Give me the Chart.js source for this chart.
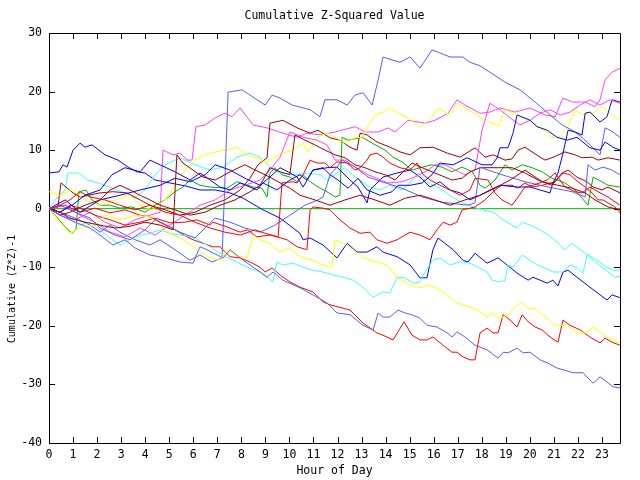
<!DOCTYPE html>
<html><head><meta charset="utf-8">
<script src="https://cdn.jsdelivr.net/npm/chart.js@4.4.1/dist/chart.umd.min.js"></script>
<style>html,body{margin:0;padding:0;background:#fff}#wrap{width:640px;height:480px}</style>
</head><body><div id="wrap"><canvas id="c" width="640" height="480"></canvas></div>
<script>
const hourTicks = [0,1,2,3,4,5,6,7,8,9,10,11,12,13,14,15,16,17,18,19,20,21,22,23];
const valueTicks = [-40,-30,-20,-10,0,10,20,30];
const titleText = "Cumulative Z-Squared Value";
const xTitle = "Hour of Day";
const yTitle = "Cumulative (Z*Z)-1";

// each series: [hour, cumulative value]
const zeroLine = [[0,0],[23.75,0]];
const magentaA = [[0,0],[0.46,-1.1],[1.08,-1.9],[1.71,-0.6],[2.33,-2.3],[2.95,-3.3],[3.58,-1.9],[4.2,-1.1],[4.62,-0.6],[4.74,10.0],[5.16,9.2],[5.45,9.5],[5.74,8.3],[5.95,8.3],[6.11,14.0],[6.49,14.3],[6.91,15.5],[7.32,16.3],[7.61,15.7],[7.95,17.2],[8.49,14.3],[9.07,13.8],[9.73,12.9],[10.32,12.2],[10.73,12.9],[11.27,12.6],[11.9,13.1],[12.73,14.0],[13.14,13.1],[13.69,13.1],[14.1,13.8],[14.39,13.1],[14.93,15.1],[15.64,14.6],[16.06,15.1],[16.6,16.3],[16.97,18.6],[17.3,17.7],[17.93,16.3],[18.34,16.5],[18.76,17.2],[19.38,16.5],[20.01,17.2],[20.63,16.0],[21.05,15.7],[21.38,18.9],[21.76,18.2],[22.3,18.2],[22.71,17.4],[22.92,18.6],[23.13,22.0],[23.42,23.3],[23.75,24.0]];
const magentaB = [[0,0],[0.67,0.6],[1.29,-1.1],[1.91,-2.3],[2.54,-4.0],[3.16,-4.8],[3.79,-3.3],[4.41,-4.5],[5.03,-2.8],[5.66,-1.1],[6.28,0.6],[6.91,1.5],[7.53,3.2],[8.15,4.0],[8.78,4.9],[9.19,6.6],[9.61,8.8],[10.02,13.1],[10.57,12.2],[11.15,11.7],[11.56,10.9],[11.9,8.3],[12.31,8.3],[12.73,7.1],[13.27,5.8],[14.1,4.4],[14.68,4.6],[15.22,5.4],[15.77,6.6],[16.06,7.5],[16.47,7.5],[16.89,6.6],[17.3,5.8],[17.72,6.6],[18.01,13.4],[18.34,18.0],[18.76,16.9],[19.18,15.5],[19.59,14.3],[20.01,15.1],[20.42,16.3],[20.84,16.9],[21.26,16.0],[21.67,16.5],[22.09,17.7],[22.5,18.6],[22.92,17.7],[23.34,18.6],[23.75,18.0]];
const blueA = [[0,6.1],[0.42,6.3],[0.58,7.5],[0.75,7.1],[1.0,10.0],[1.29,11.2],[1.5,10.5],[1.79,10.9],[2.33,9.2],[2.87,8.3],[3.29,7.1],[3.66,6.3],[3.99,6.1],[4.41,4.9],[5.03,4.4],[5.66,3.9],[6.28,3.2],[6.91,3.2],[7.53,2.7],[8.07,1.8],[8.9,-0.2],[9.61,-1.6],[10.44,-4.2],[10.57,-5.3],[10.86,-5.0],[11.4,-6.2],[11.98,-8.4],[12.4,-5.9],[12.81,-7.4],[13.23,-7.4],[13.64,-6.5],[13.89,-7.4],[14.48,-8.2],[15.02,-9.6],[15.43,-11.8],[15.72,-11.8],[15.97,-7.0],[16.18,-5.0],[16.81,-7.0],[17.22,-8.8],[17.43,-9.1],[17.72,-7.6],[18.22,-9.3],[18.68,-8.4],[19.05,-9.6],[19.47,-11.0],[19.93,-12.2],[20.13,-11.7],[20.72,-12.7],[20.96,-12.2],[21.17,-13.2],[21.38,-10.8],[21.59,-10.5],[21.96,-11.7],[22.5,-13.4],[23.21,-15.6],[23.42,-14.7],[23.75,-15.2]];
const blueB = [[0,0],[0.67,1.5],[1.29,-0.6],[2.12,1.5],[2.95,2.3],[3.79,3.2],[4.62,4.0],[5.24,5.2],[5.87,4.6],[6.49,5.8],[6.91,7.5],[7.53,6.6],[8.15,5.2],[8.78,4.0],[9.19,5.4],[9.61,7.0],[9.94,6.3],[10.32,5.4],[10.57,3.7],[10.98,6.6],[11.56,7.0],[11.98,7.1],[12.52,4.9],[12.85,3.7],[13.23,1.0],[13.35,3.2],[13.89,5.4],[14.48,6.1],[15.02,6.6],[15.43,5.4],[15.85,3.7],[16.26,4.6],[16.68,3.2],[17.1,2.7],[17.51,1.5],[17.93,2.3],[18.34,3.2],[18.76,4.0],[19.47,3.7],[20.01,3.7],[20.42,3.2],[20.84,2.7],[20.96,4.4],[21.17,6.1],[21.38,9.5],[21.59,13.4],[21.88,13.1],[22.17,12.6],[22.3,16.3],[22.5,16.5],[22.92,14.8],[23.21,15.7],[23.42,18.6],[23.75,18.2]];
const blueC = [[0,0],[0.46,-0.6],[0.96,0.6],[1.5,2.3],[2.12,3.2],[2.62,5.8],[3.16,7.0],[3.79,6.3],[4.2,8.3],[4.62,7.5],[5.24,6.3],[5.87,4.9],[6.28,6.1],[6.7,4.9],[7.11,3.7],[7.53,3.2],[7.95,4.4],[8.65,3.2],[8.9,4.4],[9.48,3.2],[10.02,4.9],[10.44,5.8],[10.73,4.9],[10.98,6.6],[11.4,7.0],[11.69,5.8],[12.02,4.9],[12.44,3.5],[12.85,5.2],[13.23,3.2],[13.77,2.3],[14.27,2.9],[14.52,4.0],[15.02,4.0],[15.52,4.4],[15.93,5.8],[16.26,7.8],[16.81,7.5],[17.39,8.7],[18.01,7.5],[18.43,7.5],[18.64,8.7],[18.76,10.4],[19.09,10.4],[19.3,12.9],[19.47,16.0],[20.01,15.1],[20.3,14.0],[20.72,13.4],[21.13,12.2],[21.55,11.7],[21.96,12.2],[22.5,10.4],[22.92,10.0],[23.13,11.4],[23.46,10.5],[23.75,10.0]];
const lightBlueA = [[0,0],[0.46,-0.6],[1.08,-1.6],[1.71,-2.8],[2.12,-4.0],[2.54,-2.8],[2.95,-4.0],[3.58,-5.3],[4.2,-6.2],[4.62,-5.3],[5.24,-7.0],[5.87,-8.8],[6.28,-7.9],[6.78,-9.1],[7.2,-8.4],[7.45,19.9],[8.03,20.3],[8.36,19.4],[8.99,17.7],[9.28,19.4],[9.61,18.9],[10.11,17.7],[10.86,16.9],[11.27,15.7],[11.48,18.6],[11.98,18.6],[12.4,17.7],[12.73,19.4],[13.06,19.8],[13.44,17.7],[13.69,22.0],[13.89,25.9],[14.27,25.4],[14.6,25.0],[15.02,25.9],[15.43,24.0],[15.93,27.1],[16.26,26.6],[16.68,25.9],[17.22,25.9],[17.51,25.0],[17.93,24.4],[18.34,23.3],[18.97,21.6],[19.59,20.3],[20.22,18.2],[20.76,16.3],[21.34,14.3],[21.76,13.4],[22.17,12.2],[22.59,10.5],[22.92,9.2],[23.13,13.8],[23.34,13.4],[23.75,12.2]];
const lightBlueB = [[0,0],[0.46,0.6],[1.08,-0.6],[1.71,-1.6],[2.12,-3.3],[2.75,-4.5],[3.37,-5.3],[3.99,-3.6],[4.41,-1.9],[4.83,-2.8],[5.45,-4.0],[6.07,-5.0],[6.49,-3.3],[6.91,-1.6],[7.53,-2.3],[8.15,-3.3],[8.78,-4.0],[9.4,-2.8],[10.02,-1.1],[10.65,0.6],[11.19,1.5],[11.4,2.0],[11.69,5.8],[11.98,7.1],[12.19,8.3],[12.73,7.1],[13.27,5.4],[13.85,4.6],[14.68,3.5],[15.52,2.0],[16.35,1.1],[17.43,0.6],[17.72,1.0],[17.93,7.1],[18.26,6.6],[18.84,5.8],[19.8,4.6],[20.76,3.7],[21.76,2.9],[22.3,2.0],[22.42,7.5],[22.71,6.6],[23.04,7.1],[23.42,6.6],[23.75,5.8]];
const lightBlueC = [[0,0],[0.46,-1.1],[1.08,-2.3],[1.71,-3.3],[2.12,-4.5],[2.66,-6.2],[3.16,-5.3],[3.58,-6.7],[4.2,-7.9],[4.83,-8.4],[5.45,-9.1],[5.99,-9.3],[6.28,-6.5],[6.57,-7.0],[6.99,-7.9],[7.24,-8.4],[7.53,-7.0],[7.95,-8.4],[8.36,-9.6],[8.78,-10.8],[9.07,-11.7],[9.32,-10.8],[9.73,-12.2],[10.44,-13.5],[11.15,-15.1],[11.56,-16.1],[11.98,-17.8],[12.52,-18.1],[13.06,-19.9],[13.48,-20.7],[13.69,-17.8],[13.89,-18.5],[14.18,-18.5],[14.52,-17.3],[14.81,-17.8],[15.1,-18.1],[15.43,-18.7],[15.72,-19.9],[16.14,-20.2],[16.56,-21.2],[16.76,-21.9],[16.97,-21.0],[17.3,-21.9],[17.72,-23.3],[18.22,-24.1],[18.68,-25.5],[18.89,-24.5],[19.09,-24.6],[19.47,-23.8],[19.72,-24.6],[20.01,-24.5],[20.42,-25.8],[20.72,-26.3],[21.13,-27.2],[21.38,-27.5],[21.8,-28.0],[22.21,-28.0],[22.63,-29.8],[22.92,-28.7],[23.21,-29.6],[23.46,-30.4],[23.75,-30.6]];
const cyanA = [[0,0],[0.25,1.5],[0.67,3.2],[0.79,6.1],[1.21,6.1],[1.62,4.9],[2.04,4.4],[2.62,3.5],[3.16,2.7],[3.58,1.8],[3.99,3.2],[4.41,5.8],[4.83,7.5],[5.45,8.7],[6.07,7.5],[6.7,6.6],[7.24,7.1],[7.82,8.8],[8.36,9.5],[8.78,8.8],[9.19,7.1],[9.61,6.1],[10.32,5.8],[10.73,6.1],[11.27,5.8],[11.56,4.9],[11.98,6.1],[12.31,7.0],[12.81,5.2],[13.35,3.7],[13.77,3.2],[14.18,4.0],[14.68,3.2],[15.02,4.4],[15.35,6.1],[15.77,4.4],[16.26,3.5],[16.76,2.0],[17.18,1.1],[17.64,0.3],[18.05,-0.2],[18.47,-0.6],[18.89,-1.9],[19.47,-3.3],[19.68,-2.3],[20.01,-2.8],[20.42,-3.6],[20.76,-4.5],[21.13,-5.7],[21.46,-7.0],[21.76,-5.9],[22.0,-6.7],[22.3,-7.6],[22.8,-8.8],[23.21,-10.0],[23.46,-10.5],[23.75,-10.5]];
const cyanB = [[0,0],[0.46,-1.1],[0.87,-1.9],[1.29,-2.8],[1.71,-2.3],[2.12,-3.6],[2.54,-5.0],[2.95,-6.2],[3.37,-5.3],[3.79,-4.5],[4.2,-4.2],[4.62,-3.6],[5.03,-4.2],[5.45,-4.5],[5.99,-4.8],[6.7,-6.5],[7.24,-7.9],[7.65,-8.8],[8.24,-10.0],[8.78,-10.8],[9.07,-11.7],[9.32,-12.5],[9.48,-9.1],[9.73,-9.6],[10.15,-9.3],[10.57,-10.0],[10.98,-10.5],[11.4,-10.8],[11.81,-11.3],[12.23,-11.7],[12.65,-12.2],[13.06,-13.4],[13.48,-15.1],[13.89,-14.2],[14.18,-14.4],[14.48,-11.7],[14.81,-11.8],[15.14,-12.7],[15.43,-12.5],[15.64,-10.8],[15.97,-8.8],[16.26,-8.4],[16.68,-9.6],[17.1,-9.1],[17.51,-9.3],[17.85,-10.0],[18.22,-10.8],[18.43,-12.2],[18.76,-12.5],[18.97,-12.2],[19.09,-9.6],[19.3,-10.0],[19.68,-7.9],[20.01,-8.8],[20.3,-9.6],[20.55,-10.0],[20.96,-10.8],[21.38,-10.8],[21.67,-9.6],[21.96,-10.1],[22.21,-11.0],[22.38,-7.9],[22.63,-8.8],[23.0,-10.0],[23.25,-10.8],[23.54,-11.7],[23.75,-11.5]];
const yellowA = [[0,2.9],[0.46,2.3],[0.96,3.2],[1.5,1.5],[2.12,0.6],[2.75,1.5],[3.37,2.3],[3.79,0.6],[4.28,-0.2],[4.83,1.5],[5.24,4.0],[5.66,6.6],[6.07,8.3],[6.49,9.2],[6.91,9.7],[7.32,10.0],[7.82,10.5],[8.24,9.2],[8.65,8.7],[9.07,7.8],[9.4,8.8],[9.73,9.5],[10.15,10.0],[10.57,11.2],[10.77,9.7],[11.15,12.2],[11.56,12.9],[11.9,12.2],[12.31,11.2],[12.73,12.1],[13.02,12.2],[13.27,14.0],[13.56,16.0],[13.89,16.5],[14.18,17.2],[14.52,16.3],[14.93,15.5],[15.43,14.0],[15.72,14.8],[15.93,15.7],[16.18,17.2],[16.47,16.5],[16.68,16.0],[16.97,18.0],[17.22,17.4],[17.6,16.5],[18.01,15.5],[18.34,14.8],[18.68,14.0],[18.97,16.9],[19.3,16.3],[19.59,15.8],[19.88,15.5],[20.13,14.6],[20.42,14.0],[20.92,12.2],[21.17,12.1],[21.55,13.8],[21.88,16.9],[22.21,16.0],[22.63,16.3],[23.0,17.4],[23.25,16.5],[23.75,15.1]];
const yellowB = [[0,0],[0.46,-2.3],[0.87,-4.2],[1.29,-3.3],[1.91,-2.8],[2.33,-1.1],[2.95,-1.9],[3.58,-1.1],[4.2,-1.4],[5.03,-4.2],[5.57,-5.3],[6.16,-7.0],[6.57,-8.2],[7.11,-8.8],[7.4,-7.0],[7.74,-7.9],[8.24,-8.4],[8.49,-4.5],[8.78,-5.3],[9.19,-5.9],[9.61,-7.4],[10.02,-6.7],[10.44,-8.2],[10.98,-8.8],[11.4,-9.6],[11.77,-10.0],[11.9,-5.3],[12.23,-5.9],[12.65,-7.0],[13.06,-8.4],[13.64,-9.1],[14.06,-9.6],[14.48,-11.8],[15.02,-13.0],[15.43,-13.5],[15.77,-13.0],[16.06,-13.5],[16.56,-14.7],[16.97,-16.1],[17.39,-16.6],[17.85,-17.3],[18.22,-18.5],[18.43,-17.8],[18.76,-18.7],[19.09,-18.1],[19.47,-16.4],[19.68,-16.1],[19.93,-17.0],[20.22,-17.0],[20.63,-18.5],[21.05,-19.9],[21.55,-19.9],[21.96,-21.2],[22.38,-21.2],[22.63,-20.2],[22.92,-21.0],[23.21,-21.9],[23.46,-22.4],[23.75,-22.9]];
const greenA = [[0,0],[0.25,-1.1],[0.67,-3.1],[0.96,-4.2],[1.12,-3.6],[1.25,2.9],[1.54,3.2],[1.79,1.5],[2.12,0.6],[2.54,0.6],[2.95,0.1],[3.45,0.3],[3.99,-0.6],[4.41,0.6],[4.83,1.5],[5.24,2.9],[5.57,3.7],[5.87,4.9],[6.28,4.0],[6.7,3.7],[7.4,3.5],[7.82,4.6],[8.49,3.7],[8.86,3.5],[9.07,2.0],[9.19,6.1],[9.4,7.0],[9.69,5.8],[10.02,5.4],[10.32,4.6],[10.57,5.8],[10.86,4.6],[11.19,3.7],[11.56,2.9],[11.9,2.0],[12.1,2.3],[12.19,12.2],[12.44,11.7],[13.02,12.2],[13.44,11.2],[13.98,10.0],[14.31,8.8],[14.68,8.0],[15.1,6.6],[15.43,7.0],[15.93,7.5],[16.35,7.1],[16.76,6.3],[17.18,7.1],[17.6,6.3],[17.93,4.0],[18.14,3.5],[18.55,4.9],[18.97,7.5],[19.26,6.6],[19.68,7.5],[20.09,7.0],[20.51,6.3],[20.92,5.2],[21.46,4.4],[21.88,3.2],[22.42,0.6],[22.63,5.4],[23.0,4.6],[23.25,4.0],[23.75,3.7]];
const redA = [[0,0],[0.67,0.6],[1.29,-0.6],[1.91,0.1],[2.54,-0.7],[3.16,-0.2],[3.79,-1.1],[4.2,-1.4],[5.03,-3.1],[5.74,-4.8],[5.99,-5.3],[6.41,-5.9],[6.82,-6.5],[7.11,-6.5],[7.53,-8.2],[7.95,-8.4],[8.36,-9.1],[8.78,-10.0],[8.99,-10.8],[9.28,-10.1],[9.61,-11.3],[10.02,-12.5],[10.44,-13.4],[10.98,-14.2],[11.4,-15.9],[11.69,-16.4],[12.52,-17.3],[13.06,-19.5],[13.64,-21.2],[13.89,-21.6],[14.31,-22.4],[14.52,-21.0],[14.77,-19.3],[15.1,-21.6],[15.43,-22.4],[15.72,-22.4],[15.97,-21.9],[16.39,-23.3],[16.76,-24.5],[16.97,-24.5],[17.22,-25.3],[17.51,-25.8],[17.72,-25.8],[17.93,-21.2],[18.22,-20.4],[18.47,-21.2],[18.68,-21.2],[18.89,-18.1],[19.18,-19.0],[19.47,-20.2],[19.68,-18.1],[19.93,-19.3],[20.22,-20.2],[20.51,-20.7],[20.84,-21.9],[21.17,-22.8],[21.38,-19.0],[21.67,-19.9],[22.09,-20.7],[22.5,-21.9],[22.92,-22.9],[23.13,-22.1],[23.42,-22.8],[23.75,-23.3]];
const redB = [[0,0],[0.46,-0.6],[0.87,0.6],[1.29,0.1],[1.91,-1.1],[2.54,-1.9],[3.16,-2.8],[3.79,-2.3],[4.41,-1.6],[5.03,-2.4],[5.66,-2.3],[6.16,-1.9],[6.7,-2.8],[6.82,-2.3],[7.4,-3.1],[7.95,-4.0],[8.24,-3.6],[8.65,-4.8],[9.19,-4.5],[9.48,-4.8],[9.9,-5.3],[10.32,-6.5],[10.73,-7.0],[10.86,-0.2],[10.98,0.3],[11.4,0.1],[11.69,-0.2],[12.1,-1.9],[12.52,-3.3],[12.94,-4.2],[13.35,-4.0],[13.64,-5.3],[14.06,-5.9],[14.48,-5.3],[15.02,-4.0],[15.43,-4.5],[15.85,-5.3],[16.14,-3.6],[16.39,-2.3],[16.68,-2.8],[16.97,-2.3],[17.18,-0.2],[17.51,0.1],[17.72,0.3],[18.14,1.5],[18.55,3.2],[18.84,4.0],[19.26,4.0],[19.51,3.5],[19.8,4.4],[20.09,3.7],[20.51,4.0],[21.05,4.6],[21.38,6.1],[21.67,5.8],[22.0,4.6],[22.3,3.7],[22.59,2.7],[22.84,1.5],[23.04,1.5],[23.25,1.0],[23.54,0.3],[23.75,-0.7]];
const redC = [[0,0],[0.46,0.6],[0.87,1.5],[1.29,2.9],[1.71,2.0],[2.33,1.5],[2.95,0.6],[3.58,-0.2],[4.2,0.6],[4.83,-0.6],[5.45,-1.1],[6.07,-2.3],[6.7,-3.3],[7.32,-4.0],[7.95,-4.5],[8.57,-3.6],[8.99,-4.2],[9.53,-4.8],[9.69,4.4],[10.15,4.6],[10.32,4.4],[10.57,5.8],[10.86,8.3],[11.15,7.8],[11.48,7.8],[11.69,7.0],[11.98,8.0],[12.4,7.8],[12.73,6.6],[12.94,7.0],[13.23,8.3],[13.35,9.2],[13.64,9.5],[13.89,8.8],[14.18,7.8],[14.6,7.0],[15.02,6.6],[15.31,7.8],[15.56,5.8],[15.85,4.9],[16.26,4.0],[16.68,3.2],[17.1,2.3],[17.51,3.2],[17.72,5.2],[18.26,4.9],[18.55,2.7],[18.84,1.5],[19.26,0.6],[19.51,2.0],[19.8,3.7],[20.13,4.0],[20.72,4.9],[21.05,6.1],[21.46,3.7],[21.88,2.9],[22.17,2.7],[22.5,3.7],[22.84,2.9],[23.25,2.0],[23.75,0.6]];
const darkRedA = [[0,0],[0.37,0.3],[0.5,4.4],[1.0,2.7],[1.29,2.0],[2.12,2.7],[2.66,2.9],[3.24,2.7],[3.79,1.5],[4.2,0.6],[4.83,-0.2],[5.45,-1.1],[6.07,-0.6],[6.7,0.6],[7.32,1.5],[7.95,3.2],[8.36,5.2],[8.69,7.5],[9.07,8.7],[9.19,14.6],[9.73,15.1],[10.32,13.8],[10.86,12.9],[11.19,13.4],[11.69,12.1],[12.1,11.7],[12.52,10.5],[12.81,10.0],[12.94,12.9],[13.23,12.6],[13.64,11.4],[14.18,10.5],[14.6,9.7],[15.02,9.2],[15.43,10.4],[15.97,10.5],[16.56,9.5],[17.1,8.8],[17.72,10.4],[18.14,8.8],[18.47,9.2],[18.97,8.3],[19.26,8.5],[19.51,10.0],[19.8,10.5],[20.09,9.7],[20.63,8.3],[20.92,8.7],[21.46,9.7],[21.88,9.2],[22.17,8.7],[22.59,8.8],[22.84,8.3],[23.25,8.7],[23.75,8.3]];
const darkRedB = [[0,0],[0.46,-1.1],[0.87,-0.6],[1.5,0.6],[2.12,1.5],[2.54,3.2],[2.95,4.0],[3.37,3.2],[3.79,2.3],[4.2,1.5],[4.62,0.6],[5.24,-0.2],[5.87,-1.1],[6.49,-0.6],[7.11,0.6],[7.74,1.5],[8.36,2.9],[8.78,4.0],[9.19,7.0],[9.61,6.3],[10.02,5.8],[10.23,12.6],[10.65,11.7],[11.06,10.9],[11.48,10.0],[11.9,9.2],[12.31,8.7],[12.73,7.5],[13.14,7.0],[13.56,6.3],[13.98,5.8],[14.39,4.9],[14.81,6.6],[15.1,7.8],[15.52,7.0],[15.93,6.3],[16.35,5.6],[16.76,4.9],[17.18,5.2],[17.51,6.3],[17.93,7.0],[18.68,7.0],[19.26,7.0],[19.8,6.1],[20.34,4.9],[20.92,4.0],[21.34,6.1],[21.59,6.6],[21.96,5.4],[22.38,4.6],[22.63,3.7],[23.0,3.2],[23.25,3.7],[23.75,2.7]];
const darkRedC = [[0,0],[0.46,-0.6],[0.87,-1.6],[1.5,-2.3],[2.12,-2.8],[2.75,-3.3],[3.37,-3.0],[3.99,-2.3],[4.62,-2.8],[5.16,-3.6],[5.32,9.2],[5.57,7.8],[6.16,6.1],[6.41,5.4],[6.91,4.9],[7.53,6.3],[8.15,7.5],[8.57,6.6],[8.99,5.8],[9.4,4.9],[10.02,3.5],[10.44,2.3],[11.06,1.5],[11.69,0.6],[12.31,1.5],[12.94,2.3],[13.56,1.5],[14.18,0.6],[14.81,1.8],[15.43,2.3],[16.06,1.5],[16.68,0.6],[17.3,1.5],[17.93,2.3],[18.55,3.5],[19.18,4.9],[19.8,6.6],[20.51,4.6],[21.17,4.0],[21.76,3.5],[22.3,2.7],[22.71,1.5],[23.25,0.3],[23.75,-0.2]];

const RED='#ff0000', GREEN='#00b000', BLUE='#0000ff', MAGENTA='#ff40ff', CYAN='#40ffff', DARKRED='#a00000', YELLOW='#ffff00', LIGHTBLUE='#5a5aff';
const seriesList = [
  [zeroLine, GREEN],
  [redA, RED],[greenA, GREEN],[blueA, BLUE],[magentaA, MAGENTA],[cyanA, CYAN],[darkRedA, DARKRED],[yellowA, YELLOW],[lightBlueA, LIGHTBLUE],
  [redB, RED],[blueB, BLUE],[magentaB, MAGENTA],[cyanB, CYAN],[darkRedB, DARKRED],[yellowB, YELLOW],[lightBlueB, LIGHTBLUE],
  [redC, RED],[blueC, BLUE],[darkRedC, DARKRED],[lightBlueC, LIGHTBLUE]
];

const FONT = '11.5px "DejaVu Sans Mono", "Liberation Mono", monospace';
const FONT_V = '10px "DejaVu Sans Mono", "Liberation Mono", monospace';

const gnuplotFrame = {
  id: 'gnuplotFrame',
  beforeDatasetsDraw(chart) {
    const {ctx, chartArea: a, scales: {x, y}} = chart;
    ctx.save();
    ctx.strokeStyle = '#000';
    ctx.lineWidth = 1;
    ctx.beginPath();
    ctx.rect(Math.round(a.left)+0.5, Math.round(a.top)+0.5, Math.round(a.right-a.left), Math.round(a.bottom-a.top));
    ctx.stroke();
    ctx.beginPath();
    const T = 6;
    hourTicks.forEach(h => {
      const px = Math.round(x.getPixelForValue(h)) + 0.5;
      ctx.moveTo(px, a.bottom); ctx.lineTo(px, a.bottom - T);
      ctx.moveTo(px, a.top); ctx.lineTo(px, a.top + T);
    });
    valueTicks.forEach(v => {
      const py = Math.round(y.getPixelForValue(v)) + 0.5;
      ctx.moveTo(a.left, py); ctx.lineTo(a.left + T, py);
      ctx.moveTo(a.right, py); ctx.lineTo(a.right - T, py);
    });
    ctx.stroke();
    ctx.fillStyle = '#000';
    ctx.font = FONT;
    ctx.textBaseline = 'middle';
    ctx.textAlign = 'center';
    hourTicks.forEach(h => ctx.fillText(String(h), x.getPixelForValue(h), a.bottom + 12));
    ctx.textAlign = 'right';
    valueTicks.forEach(v => ctx.fillText(String(v), a.left - 7, y.getPixelForValue(v)));
    ctx.textAlign = 'center';
    ctx.fillText(titleText, (a.left + a.right) / 2, 16);
    ctx.fillText(xTitle, (a.left + a.right) / 2, 471);
    ctx.font = FONT_V;
    ctx.translate(12, 289);
    ctx.rotate(-Math.PI / 2);
    ctx.fillText(yTitle, 0, 0);
    ctx.restore();
  }
};

new Chart(document.getElementById('c'), {
  type: 'line',
  data: {
    datasets: seriesList.map(([pts, color]) => ({
      data: pts.map(p => ({x: p[0], y: p[1]})),
      borderColor: color,
      borderWidth: 1,
      pointRadius: 0,
      tension: 0,
      fill: false
    })).reverse()
  },
  options: {
    responsive: false,
    animation: false,
    devicePixelRatio: 1,
    layout: {padding: {left: 49, top: 33, right: 20, bottom: 37}},
    plugins: {legend: {display: false}, tooltip: {enabled: false}, title: {display: false}},
    scales: {
      x: {type: 'linear', min: 0, max: 23.75, display: false},
      y: {type: 'linear', min: -40, max: 30, display: false}
    }
  },
  plugins: [gnuplotFrame]
});
</script>
</body></html>
